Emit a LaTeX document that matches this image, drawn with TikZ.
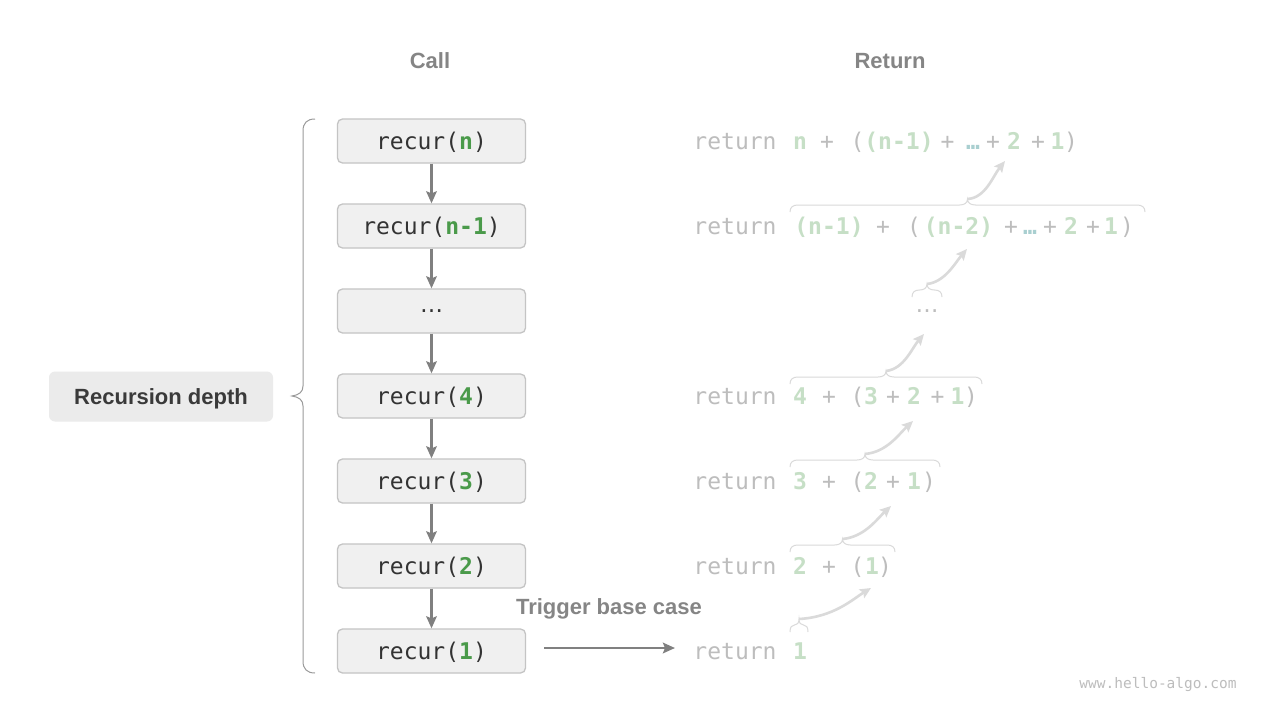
\documentclass[tikz,border=0pt]{standalone}
\usepackage{fontspec}
\setmainfont{Liberation Sans}
\newfontfamily\monof{DejaVu Sans Mono}
\newfontfamily\dvs{DejaVu Sans}
\usetikzlibrary{arrows.meta}
\definecolor{boxfill}{HTML}{F0F0F0}
\definecolor{boxline}{HTML}{C4C4C4}
\definecolor{darkt}{HTML}{333333}
\definecolor{gr}{HTML}{4A9A4A}
\definecolor{lgr}{HTML}{C6DFC6}
\definecolor{lgray}{HTML}{BDBDBD}
\definecolor{arrgray}{HTML}{808080}
\definecolor{hdrgray}{HTML}{858585}
\definecolor{brcol}{HTML}{DADADA}
\definecolor{dotc}{HTML}{A9CFD0}
\definecolor{lbrcol}{HTML}{9A9A9A}
\definecolor{rdfill}{HTML}{EBEBEB}
\definecolor{rdtext}{HTML}{3A3A3A}
\tikzset{
  callbox/.style={draw=boxline, line width=1.3pt, fill=boxfill, rounded corners=5pt,
    minimum width=188pt, minimum height=44pt, inner sep=0pt,
    font=\monof\fontsize{23}{23}\selectfont, text=darkt, text height=17pt, text depth=0pt},
  callarr/.style={draw=arrgray, line width=2.7pt, -{Stealth[length=12pt,width=10.5pt,inset=2pt]}},
  rt/.style={anchor=base, inner sep=0pt, font=\monof\fontsize{23}{23}\selectfont, text=lgray},
  rg/.style={rt, font=\monof\bfseries\fontsize{23}{23}\selectfont, text=lgr},
  rdots/.style={rg, text=dotc},
  retarr/.style={draw=brcol, line width=2.6pt, -{Stealth[length=11pt,width=10pt,inset=2pt]}},
  hbrs/.style={draw=brcol, line width=1pt},
  hdr/.style={font=\bfseries\fontsize{22}{22}\selectfont, text=hdrgray, inner sep=0pt},
}
\newcommand\myhbr[3]{%
  \pgfmathsetmacro\bxm{(#1+#2)/2}%
  \pgfmathsetmacro\brr{min(8,(#2-#1)/4)}%
  \draw[hbrs] (#1,#3+7) .. controls (#1,#3+2) and (#1+\brr*0.4,#3) .. (#1+\brr,#3)
    -- (\bxm-\brr,#3) .. controls (\bxm-\brr*0.4,#3) and (\bxm,#3-2) .. (\bxm,#3-6)
    .. controls (\bxm,#3-2) and (\bxm+\brr*0.4,#3) .. (\bxm+\brr,#3)
    -- (#2-\brr,#3) .. controls (#2-\brr*0.4,#3) and (#2,#3+2) .. (#2,#3+7);}
\begin{document}
\begin{tikzpicture}[x=1pt,y=-1pt]
\useasboundingbox (0,0) rectangle (1280,720);
\fill[white] (0,0) rectangle (1280,720);

% headers
\node[hdr] (call) at (430,61) {Call};
\node[hdr] (ret) at (890,61) {Return};

% call boxes
\node[callbox] (b1) at (431.5,141) {recur(\textbf{\color{gr}n})};
\node[callbox] (b2) at (431.5,226) {recur(\textbf{\color{gr}n-1})};
\node[callbox] (b3) at (431.5,311) {{\dvs\raisebox{7pt}{…}}};
\node[callbox] (b4) at (431.5,396) {recur(\textbf{\color{gr}4})};
\node[callbox] (b5) at (431.5,481) {recur(\textbf{\color{gr}3})};
\node[callbox] (b6) at (431.5,566) {recur(\textbf{\color{gr}2})};
\node[callbox] (b7) at (431.5,651) {recur(\textbf{\color{gr}1})};
\draw[callarr] (b1) -- (b2);
\draw[callarr] (b2) -- (b3);
\draw[callarr] (b3) -- (b4);
\draw[callarr] (b4) -- (b5);
\draw[callarr] (b5) -- (b6);
\draw[callarr] (b6) -- (b7);

% left brace and label
\draw[draw=lbrcol, line width=1pt] (315,119) .. controls (307,119) and (303,123) .. (303,131)
  -- (303,386) .. controls (303,392) and (299,395) .. (292,396)
  .. controls (299,397) and (303,400) .. (303,406)
  -- (303,661) .. controls (303,669) and (307,673) .. (315,673);
\node[fill=rdfill, rounded corners=6pt, minimum width=224pt, minimum height=50pt, inner sep=0pt,
  font=\bfseries\fontsize{22}{22}\selectfont, text=rdtext, text height=16pt, text depth=0pt] (rd) at (161,396.5) {Recursion depth};

% trigger
\node[hdr] (trig) at (609,609) {Trigger base case};

% return column
% row 1
\node[rt] (r1ret) at (735,149.5) {return};
\node[rg] (r1n) at (800,149.5) {n};
\node[rt] (r1p1) at (827,149.5) {+};
\node[rt] (r1o) at (857.5,149.5) {(};
\node[rg] (r1a) at (899,149.5) {(n-1)};
\node[rt] (r1p2) at (947.5,149.5) {+};
\node[rdots] (r1d) at (973,149.5) {…};
\node[rt] (r1p3) at (993,149.5) {+};
\node[rg] (r1b) at (1014,149.5) {2};
\node[rt] (r1p4) at (1038,149.5) {+};
\node[rg] (r1c) at (1057.5,149.5) {1};
\node[rt] (r1cl) at (1071,149.5) {)};
% row 2
\node[rt] (r2ret) at (735,234.5) {return};
\node[rg] (r2n) at (829,234.5) {(n-1)};
\node[rt] (r2p1) at (883,234.5) {+};
\node[rt] (r2o) at (914,234.5) {(};
\node[rg] (r2a) at (958.5,234.5) {(n-2)};
\node[rt] (r2p2) at (1011,234.5) {+};
\node[rdots] (r2d) at (1030,234.5) {…};
\node[rt] (r2p3) at (1050,234.5) {+};
\node[rg] (r2b) at (1071,234.5) {2};
\node[rt] (r2p4) at (1093,234.5) {+};
\node[rg] (r2c) at (1111,234.5) {1};
\node[rt] (r2cl) at (1127,234.5) {)};
% row 3
\node[rt] (r3d) at (927,319.5) {{\dvs\raisebox{7pt}{…}}};
% row 4
\node[rt] (r4ret) at (735,404.5) {return};
\node[rg] (r4n) at (800,404.5) {4};
\node[rt] (r4p1) at (829,404.5) {+};
\node[rt] (r4o) at (857.5,404.5) {(};
\node[rg] (r4a) at (871,404.5) {3};
\node[rt] (r4p2) at (893,404.5) {+};
\node[rg] (r4b) at (914,404.5) {2};
\node[rt] (r4p3) at (937.5,404.5) {+};
\node[rg] (r4c) at (957.5,404.5) {1};
\node[rt] (r4cl) at (971,404.5) {)};
% row 5
\node[rt] (r5ret) at (735,489.5) {return};
\node[rg] (r5n) at (800,489.5) {3};
\node[rt] (r5p1) at (829,489.5) {+};
\node[rt] (r5o) at (857.5,489.5) {(};
\node[rg] (r5a) at (871,489.5) {2};
\node[rt] (r5p2) at (893,489.5) {+};
\node[rg] (r5b) at (914,489.5) {1};
\node[rt] (r5cl) at (929,489.5) {)};
% row 6
\node[rt] (r6ret) at (735,574.5) {return};
\node[rg] (r6n) at (800,574.5) {2};
\node[rt] (r6p1) at (829,574.5) {+};
\node[rt] (r6o) at (857.5,574.5) {(};
\node[rg] (r6a) at (872,574.5) {1};
\node[rt] (r6cl) at (885,574.5) {)};
% row 7
\node[rt] (r7ret) at (735,659.5) {return};
\node[rg] (r7n) at (800,659.5) {1};

% trigger arrow
\coordinate (trigend) at (675,648);
\draw[callarr] ([xshift=18pt,yshift=3pt]b7.east) -- (trigend);

% braces
\myhbr{790}{1145}{205}
\myhbr{912}{942}{290}
\myhbr{790}{982}{377}
\myhbr{790}{940}{460}
\myhbr{790}{895}{545}
\myhbr{790}{808}{625}

% brace tips and arrow ends
\coordinate (t2) at (967.5,199);
\coordinate (t3) at (927,284);
\coordinate (t4) at (886,371);
\coordinate (t5) at (865,454);
\coordinate (t6) at (842.5,539);
\coordinate (t7) at (799,619);
\coordinate (e1) at (1005,161);
\coordinate (e2) at (967,249);
\coordinate (e3) at (924,334);
\coordinate (e4) at (913,421);
\coordinate (e5) at (891,506);
\coordinate (e6) at (871,588);
\draw[retarr] (t2) .. controls +(18,-1) and +(-12,15) .. (e1);
\draw[retarr] (t3) .. controls +(18,-2) and +(-12,14) .. (e2);
\draw[retarr] (t4) .. controls +(18,-2) and +(-12,14) .. (e3);
\draw[retarr] (t5) .. controls +(22,-2) and +(-14,13) .. (e4);
\draw[retarr] (t6) .. controls +(22,-2) and +(-14,13) .. (e5);
\draw[retarr] (t7) .. controls +(35,-2) and +(-18,11) .. (e6);

% watermark
\node[font=\monof\fontsize{14.5}{14.5}\selectfont, text=lgray, inner sep=0pt] (wm) at (1158,685) {www.hello-algo.com};
\end{tikzpicture}
\end{document}
